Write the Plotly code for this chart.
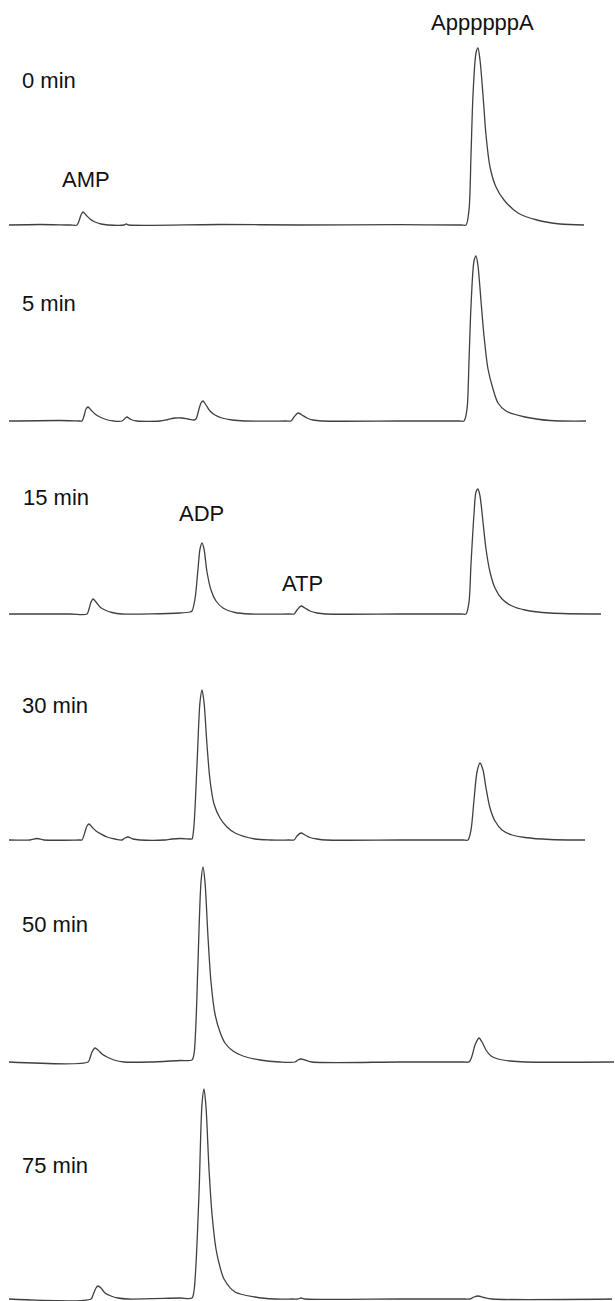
import plotly.graph_objects as go

# ---------------- data (retention time in min, absorbance in mAU) ----------------
sample_labels = ["0 min", "5 min", "15 min", "30 min", "50 min", "75 min"]
peak_names = ["AMP", "ADP", "ATP", "AppppppA"]

t_0 = [0.45, 2.0, 3.5, 3.85, 3.95, 4.05, 4.15, 4.3, 4.5, 4.75, 5.05, 5.4, 6.2, 6.3, 6.45, 11.0, 15.0, 20.0,
       23.05, 23.3, 23.45, 23.55, 23.65, 23.8, 23.9, 24.0, 24.15, 24.3, 24.5, 24.8, 25.2, 25.9, 26.85, 28.0, 29.2]
a_0 = [0, 0.5, 0, 0, 4, 10, 13, 10, 6, 3, 1, 0, 0, 1, 0, 0.5, 0, 0.3,
       0, 0, 15, 70, 130, 172, 177, 165, 130, 90, 58, 38, 25, 12, 5, 1, 0]

t_5 = [0.45, 3.0, 4.0, 4.1, 4.2, 4.3, 4.4, 4.55, 4.75, 5.0, 5.3, 5.7, 6.1, 6.3, 6.35, 6.55, 6.85,
       8.0, 8.4, 8.75, 9.1, 9.4, 9.7, 9.8, 9.95, 10.05, 10.15, 10.3, 10.5, 10.75, 11.1, 11.6, 12.25,
       14.3, 14.55, 14.7, 14.9, 15.1, 15.35, 15.65, 16.1, 20.0,
       22.95, 23.2, 23.35, 23.45, 23.55, 23.7, 23.8, 23.9, 24.05, 24.2, 24.4, 24.65, 24.9, 25.3, 26.25, 27.5, 29.3]
a_5 = [0, 0.5, 0, 0, 5, 12, 14, 11, 7, 4, 1.5, 0, 0, 3.5, 4, 1.5, 0,
       0, 1.5, 3, 3, 2, 1, 2, 12, 18, 20, 16, 10, 6, 3, 1, 0,
       0, 0, 4, 8, 6, 3, 1, 0, 0,
       0, 0, 12, 60, 115, 160, 165, 155, 120, 85, 52, 32, 18, 10, 4, 0.5, 0]

t_15 = [0.45, 3.5, 4.35, 4.45, 4.55, 4.65, 4.8, 5.0, 5.25, 5.6, 6.1, 9.0, 9.5, 9.6, 9.75, 9.9, 10.0,
        10.1, 10.2, 10.35, 10.55, 10.8, 11.15, 11.75, 12.5,
        14.45, 14.7, 14.85, 15.05, 15.25, 15.5, 15.85, 16.3, 20.0,
        23.05, 23.3, 23.45, 23.55, 23.7, 23.8, 23.9, 24.0, 24.15, 24.3, 24.5, 24.75, 25.1, 25.6, 26.25, 27.5, 30.05]
a_15 = [0, 0, 0, 5, 12, 15, 12, 7, 4, 1.5, 0, 1, 2, 3, 15, 45, 65,
        71, 65, 42, 24, 13, 6, 1.5, 0,
        0, 0, 4, 8, 6, 3, 1, 0, 0,
        0, 0, 12, 50, 100, 122, 125, 118, 92, 65, 42, 26, 15, 8, 4, 1, 0]

t_30 = [0.45, 1.5, 1.85, 2.2, 4.0, 4.1, 4.25, 4.35, 4.45, 4.6, 4.8, 5.05, 5.35, 5.75, 6.1, 6.25, 6.4,
        6.65, 7.0, 8.25, 8.6, 9.0, 9.5, 9.6, 9.7, 9.85, 10.0, 10.1, 10.2, 10.35, 10.5, 10.7, 11.0,
        11.35, 11.75, 12.75, 13.5,
        14.45, 14.7, 14.85, 15.05, 15.25, 15.5, 15.85, 16.3, 20.0,
        23.15, 23.4, 23.55, 23.7, 23.85, 24.0, 24.15, 24.3, 24.5, 24.75, 25.1, 25.6, 26.25, 27.5, 29.25]
a_30 = [0, 0, 1.5, 0, 0, 0, 8, 14, 16, 13, 9, 6, 3, 1, 0, 2, 3,
        1, 0, 0, 1, 1.5, 1, 1, 15, 75, 138, 150, 138, 95, 60, 36, 22,
        13, 7, 1, 0,
        0, 0, 4, 7, 5, 2.5, 1, 0, 0,
        0, 0, 10, 40, 68, 77, 70, 52, 32, 19, 10, 5, 2.5, 0.5, 0]

t_50 = [0.45, 4.4, 4.5, 4.6, 4.75, 4.9, 5.1, 5.35, 5.7, 6.2, 7.5, 9.0, 9.6, 9.7, 9.8, 9.9, 10.05,
        10.15, 10.25, 10.4, 10.55, 10.75, 11.0, 11.25, 11.65, 12.15, 13.0, 14.0,
        14.75, 14.9, 15.05, 15.25, 15.6, 20.0,
        23.2, 23.45, 23.6, 23.75, 23.95, 24.1, 24.3, 24.55, 24.9, 25.5, 26.25, 30.7]
a_50 = [0, 0, 4, 10, 14, 12, 8, 5, 2, 0, 0, 1.5, 2, 8, 40, 100, 180,
        195, 180, 125, 80, 48, 30, 19, 11, 6, 2, 0,
        0, 2, 3, 2, 0, 0,
        0, 0, 6, 17, 24, 20, 12, 6, 3, 1, 0, 0]

t_75 = [0.45, 4.55, 4.65, 4.8, 4.9, 5.05, 5.25, 5.55, 5.9, 6.4, 9.0, 9.6, 9.7, 9.8, 9.95, 10.1,
        10.2, 10.3, 10.45, 10.6, 10.8, 11.0, 11.2, 11.75, 12.75, 13.75,
        14.65, 14.9, 15.05, 15.25, 20.0,
        23.25, 23.5, 23.7, 23.9, 24.2, 24.6, 30.6]
a_75 = [0, 0, 4, 11, 13, 11, 6, 3, 1, 0, 1, 1, 8, 35, 105, 195,
        210, 192, 130, 85, 50, 32, 20, 7, 2, 0,
        0, 0, 1, 0, 0,
        0, 0, 2, 3, 1.5, 0, 0]

times = [t_0, t_5, t_15, t_30, t_50, t_75]
signals = [a_0, a_5, a_15, a_30, a_50, a_75]

# ---------------- layout (pixel geometry) ----------------
W, H = 615, 1301
baselines_px = [225, 421, 614, 840, 1062, 1299]   # baseline of each chromatogram
span_px = 215                                      # 1 mAU == 1 px
LINE = "#404040"
FONT = "Liberation Sans, Arial, sans-serif"

fig = go.Figure()
for i, (t, a) in enumerate(zip(times, signals)):
    yname = "y" if i == 0 else f"y{i+1}"
    fig.add_trace(go.Scatter(x=t, y=a, mode="lines", xaxis="x", yaxis=yname,
                             line=dict(color=LINE, width=1.3, shape="spline", smoothing=0.8),
                             hoverinfo="skip", showlegend=False))

layout_axes = {}
for i, B in enumerate(baselines_px):
    top = B - span_px
    bottom = min(B + 6, H)
    key = "yaxis" if i == 0 else f"yaxis{i+1}"
    layout_axes[key] = dict(domain=[1 - bottom / H, 1 - top / H],
                            range=[-(bottom - B), span_px],
                            visible=False, fixedrange=True, anchor="x")

fig.update_layout(
    width=W, height=H,
    margin=dict(l=0, r=0, t=0, b=0),
    paper_bgcolor="white", plot_bgcolor="rgba(0,0,0,0)",
    xaxis=dict(range=[0, 30.75], domain=[0, 1], visible=False, fixedrange=True),
    **layout_axes,
)

def px_x(x):
    return x / W

def px_y(y):
    return 1 - y / H

label_pos = [(20, 80), (20, 303), (21, 498), (20, 705), (20, 925), (20, 1165)]
annotations = []
for lab, (x, y) in zip(sample_labels, label_pos):
    annotations.append(dict(text=lab, x=px_x(x), y=px_y(y), xref="paper", yref="paper",
                            xanchor="left", yanchor="middle", showarrow=False,
                            font=dict(family=FONT, size=22, color="#111111")))

peak_label_pos = {"AMP": (86, 180), "ADP": (201, 513), "ATP": (302, 583), "AppppppA": (482, 22)}
for name in peak_names:
    x, y = peak_label_pos[name]
    annotations.append(dict(text=name, x=px_x(x), y=px_y(y), xref="paper", yref="paper",
                            xanchor="center", yanchor="middle", showarrow=False,
                            font=dict(family=FONT, size=22, color="#111111")))
fig.update_layout(annotations=annotations)

fig.write_html("out.html", config={"displayModeBar": False},
               post_script="document.body.style.margin='0';document.body.style.overflow='hidden';")
